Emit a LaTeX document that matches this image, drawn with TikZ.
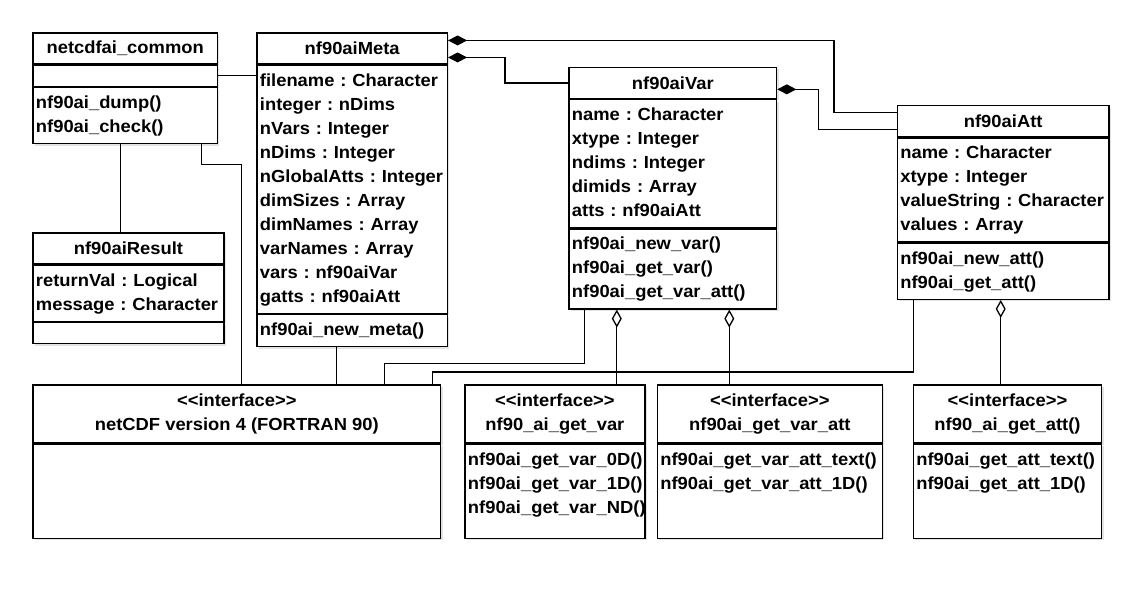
\documentclass[tikz,border=0pt]{standalone}
\usepackage{fontspec}
\setmainfont{Liberation Sans}[FakeStretch=1.05]
\usetikzlibrary{arrows.meta,positioning,shadows}
\newcommand{\umlfont}{\bfseries\fontsize{17.5}{24}\selectfont\frenchspacing\hyphenpenalty=10000\exhyphenpenalty=10000}
\tikzset{umlhead/.style={draw,line width=1.3pt,fill=white,font=\umlfont,minimum width=#1,minimum height=31pt,inner sep=0pt,anchor=north west,align=center,drop shadow={shadow xshift=2pt,shadow yshift=-2pt,fill=black!22}},ifhead/.style={umlhead=#1,minimum height=58pt},compart/.style 2 args={draw,line width=1.3pt,fill=white,font=\umlfont,text width=#1-6pt,inner xsep=3pt,inner ysep=4pt,align=left,text height=17pt,text depth=24pt*#2-17pt,drop shadow={shadow xshift=2pt,shadow yshift=-2pt,fill=black!22}},ifpart/.style={compart={#1}{1},text depth=69pt},blankpart/.style={draw,line width=1.3pt,fill=white,minimum width=#1,minimum height=21pt,inner sep=0pt,drop shadow={shadow xshift=2pt,shadow yshift=-2pt,fill=black!22}},assoc/.style={line width=1.3pt},comp/.style={assoc,{Diamond[length=19pt,width=10pt]}-},aggr/.style={assoc,{Diamond[open,length=18pt,width=10pt]}-}}
\begin{document}
\begin{tikzpicture}[x=1pt,y=-1pt]
\useasboundingbox (0,0) rectangle (1136,589);
% classes
\node[umlhead=184.5pt] (common) at (32.3,32.3) {netcdfai\_common};
\node[blankpart=184.5pt,below=0pt of common] (common-a) {};
\node[compart={184.5pt}{2},below=0pt of common-a] (common-o) {nf90ai\_dump()\\nf90ai\_check()};
\node[umlhead=191pt] (res) at (32.3,232.3) {nf90aiResult};
\node[compart={191pt}{2},below=0pt of res] (res-a) {returnVal : Logical\\message : Character};
\node[blankpart=191pt,below=0pt of res-a] (res-o) {};
\node[umlhead=190.5pt] (meta) at (256.3,32.3) {nf90aiMeta};
\node[compart={190.5pt}{10},below=0pt of meta] (meta-a) {filename : Character\\integer : nDims\\nVars : Integer\\nDims : Integer\\nGlobalAtts : Integer\\dimSizes : Array\\dimNames : Array\\varNames : Array\\vars : nf90aiVar\\gatts : nf90aiAtt};
\node[compart={190.5pt}{1},below=0pt of meta-a] (meta-o) {nf90ai\_new\_meta()};
\node[umlhead=207.7pt] (var) at (568.3,66.7) {nf90aiVar};
\node[compart={207.7pt}{5},below=0pt of var] (var-a) {name : Character\\xtype : Integer\\ndims : Integer\\dimids : Array\\atts : nf90aiAtt};
\node[compart={207.7pt}{3},below=0pt of var-a] (var-o) {nf90ai\_new\_var()\\nf90ai\_get\_var()\\nf90ai\_get\_var\_att()};
\node[umlhead=211.7pt] (att) at (896.7,105) {nf90aiAtt};
\node[compart={211.7pt}{4},below=0pt of att] (att-a) {name : Character\\xtype : Integer\\valueString : Character\\values : Array};
\node[compart={211.7pt}{2},below=0pt of att-a] (att-o) {nf90ai\_new\_att()\\nf90ai\_get\_att()};
% interfaces
\node[ifhead=407.7pt] (ncdf) at (32.3,384.3) {<{}<interface>{}>\\netCDF version 4 (FORTRAN 90)};
\node[blankpart=407.7pt,minimum height=94pt,below=0pt of ncdf] (ncdf-o) {};
\node[ifhead=180pt] (getvar) at (464.3,384.3) {<{}<interface>{}>\\nf90\_ai\_get\_var};
\node[ifpart=180pt,below=0pt of getvar] (getvar-o) {nf90ai\_get\_var\_0D()\\nf90ai\_get\_var\_1D()\\nf90ai\_get\_var\_ND()};
\node[ifhead=225pt] (getvaratt) at (656.7,384.3) {<{}<interface>{}>\\nf90ai\_get\_var\_att};
\node[ifpart=225pt,below=0pt of getvaratt] (getvaratt-o) {nf90ai\_get\_var\_att\_text()\\nf90ai\_get\_var\_att\_1D()};
\node[ifhead=188.3pt] (getatt) at (912.7,384.3) {<{}<interface>{}>\\nf90\_ai\_get\_att()};
\node[ifpart=188.3pt,below=0pt of getatt] (getatt-o) {nf90ai\_get\_att\_text()\\nf90ai\_get\_att\_1D()};
% links
\draw[assoc] (common-a.east) -- (common-a.east -| meta-a.west);
\draw[assoc] ([xshift=-4.5pt]common-o.south) -- ([xshift=-4.5pt]common-o.south |- res.north);
\draw[assoc] ([xshift=76pt]common-o.south) -- ++(0,20) -| ([xshift=4.5pt]ncdf.north);
\draw[assoc] ([xshift=-15.5pt]meta-o.south) -- ([xshift=-15.5pt]meta-o.south |- ncdf.north);
\draw[assoc] ([xshift=-88pt]var-o.south) -- ++(0,54) -| ([xshift=148pt]ncdf.north);
\draw[assoc] ([xshift=-90pt]att-o.south) -- ++(0,72) -| ([xshift=196pt]ncdf.north);
\draw[comp] ([yshift=8pt]meta.east) -- ++(386,0) |- ([yshift=8.5pt]att.west);
\draw[comp] ([yshift=-9pt]meta.east) -- ++(57,0) |- (var.west);
\draw[comp] ([yshift=-6.5pt]var.east) -- ++(41,0) |- ([yshift=-8pt]att.west);
\draw[aggr] ([xshift=-56pt]var-o.south) -- ([xshift=-56pt]var-o.south |- getvar.north);
\draw[aggr] ([xshift=56.5pt]var-o.south) -- ([xshift=56.5pt]var-o.south |- getvaratt.north);
\draw[aggr] ([xshift=-2.5pt]att-o.south) -- ([xshift=-2.5pt]att-o.south |- getatt.north);
\end{tikzpicture}
\end{document}
